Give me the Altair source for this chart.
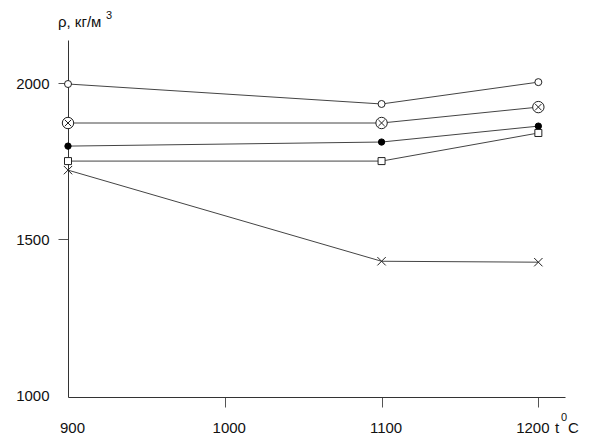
import altair as alt
import pandas as pd

temps = [900, 1100, 1200]
rho_open_circle = [1997, 1933, 2003]
rho_cross_circle = [1872, 1872, 1923]
rho_dot = [1798, 1811, 1862]
rho_square = [1750, 1750, 1840]
rho_x = [1721, 1429, 1426]

series_names = ["open", "crossed", "dot", "square", "x"]
series_values = [rho_open_circle, rho_cross_circle, rho_dot, rho_square, rho_x]

x_ticks = [900, 1000, 1100, 1200]
y_ticks = [1000, 1500, 2000]

rows = []
for name, vals in zip(series_names, series_values):
    for t, v in zip(temps, vals):
        rows.append({"series": name, "t": t, "rho": v})
df = pd.DataFrame(rows)

FONT = "Liberation Sans"
INK = "#222222"
LINE = "#444444"
XPATH = "M-1,-1L1,1M-1,1L1,-1"

xscale = alt.Scale(domain=[900, 1217], nice=False, zero=False)
yscale = alt.Scale(domain=[994, 2138], nice=False, zero=False)

xenc = alt.X(
    "t:Q",
    scale=xscale,
    axis=alt.Axis(
        values=x_ticks,
        title=None,
        grid=False,
        format="d",
        tickSize=10,
        tickColor={"condition": {"test": "datum.value === 900", "value": "transparent"}, "value": "#555555"},
        domainColor="#333333",
        labelFont=FONT,
        labelFontSize=15,
        labelColor="#111111",
        labelPadding=13,
        labelAlign="center",
        labelOffset={"condition": {"test": "datum.value === 1200", "value": -6}, "value": 4},
    ),
)
yenc = alt.Y(
    "rho:Q",
    scale=yscale,
    axis=alt.Axis(
        values=y_ticks,
        title=None,
        grid=False,
        format="d",
        tickSize=10,
        tickColor={"condition": {"test": "datum.value === 1000", "value": "transparent"}, "value": "#555555"},
        domainColor="#333333",
        labelFont=FONT,
        labelFontSize=15,
        labelColor="#111111",
        labelPadding=9,
    ),
)

base = alt.Chart(df).encode(x=xenc, y=yenc)

lines = base.mark_line(color=LINE, strokeWidth=1).encode(detail="series:N")

def pts(name, **kw):
    return base.transform_filter(alt.datum.series == name).mark_point(**kw)

p_open = pts("open", shape="circle", size=49, filled=True, fill="white", stroke=INK, strokeWidth=1, opacity=1)
p_cross_c = pts("crossed", shape="circle", size=130, filled=True, fill="white", stroke=INK, strokeWidth=1, opacity=1)
p_cross_x = pts("crossed", shape=XPATH, size=40, filled=False, stroke=INK, strokeWidth=1, opacity=1)
p_dot = pts("dot", shape="circle", size=40, filled=True, fill="black", stroke="black", strokeWidth=1, opacity=1)
p_square = pts("square", shape="square", size=49, filled=True, fill="white", stroke=INK, strokeWidth=1, opacity=1)
p_x = pts("x", shape=XPATH, size=70, filled=False, stroke=INK, strokeWidth=1, opacity=1)

ann = pd.DataFrame({"k": [0]})
def label(txt, x, y, size=14, align="left"):
    return alt.Chart(ann).mark_text(
        text=txt, font=FONT, fontSize=size, color="#111111", align=align, baseline="middle"
    ).encode(x=alt.value(x), y=alt.value(y))

t_rho = label("ρ, кг/м", -10, -18, 15)
t_rho3 = label("3", 38, -24, 11)
t_t = label("t", 487, 388, 15)
t_0 = label("0", 493, 378, 11)
t_c = label("C", 500, 388, 15)

chart = alt.layer(
    lines, p_open, p_cross_c, p_cross_x, p_dot, p_square, p_x,
    t_rho, t_rho3, t_t, t_0, t_c
).properties(
    width=497,
    height=357,
    background="white",
    autosize=alt.AutoSizeParams(type="none"),
    padding={"left": 60, "top": 32, "right": 17, "bottom": 46},
).configure_view(stroke=None)

chart.save("out.html", embed_options={"renderer": "svg", "actions": False})
